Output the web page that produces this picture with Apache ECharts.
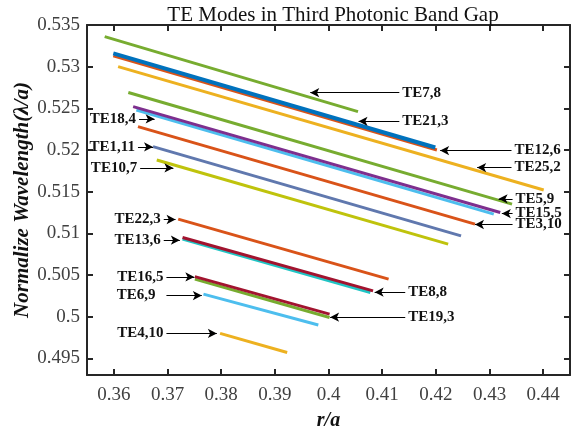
<!DOCTYPE html>
<html>
<head>
<meta charset="utf-8">
<title>TE Modes in Third Photonic Band Gap</title>
<script src="https://cdn.jsdelivr.net/npm/echarts@6/dist/echarts.min.js"></script>
<style>
	* { margin: 0; padding: 0; }
	#main { width: 579px; height: 430px; }
</style>
</head>
<body>
<div id="main"></div>
<script>
	// tick labels
	let xTicks = [0.36, 0.37, 0.38, 0.39, 0.40, 0.41, 0.42, 0.43, 0.44];
	let yTicks = [0.495, 0.5, 0.505, 0.51, 0.515, 0.52, 0.525, 0.53, 0.535];

	// mode lines, [start, end] (draw order = list order)
	let modeNames = ['TE7,8', 'TE12,6', 'TE21,3', 'TE25,2', 'TE5,9', 'TE18,4', 'TE15,5', 'TE3,10',
		'TE1,11', 'TE10,7', 'TE22,3', 'TE13,6', 'TE8,8', 'TE19,3', 'TE16,5', 'TE6,9', 'TE4,10'];
	let modeData = [
		[[0.3583, 0.5336], [0.4055, 0.5246]],
		[[0.3599, 0.5313], [0.4202, 0.5200]],
		[[0.3599, 0.5316], [0.4199, 0.5203]],
		[[0.3608, 0.5300], [0.4401, 0.5152]],
		[[0.3627, 0.5269], [0.4342, 0.5135]],
		[[0.3642, 0.5248], [0.4308, 0.5123]],
		[[0.3636, 0.5252], [0.4320, 0.5125]],
		[[0.3645, 0.5228], [0.4273, 0.5111]],
		[[0.3673, 0.5204], [0.4247, 0.5097]],
		[[0.3680, 0.5188], [0.4223, 0.5087]],
		[[0.3720, 0.5117], [0.4112, 0.5045]],
		[[0.3728, 0.5093], [0.4078, 0.5029]],
		[[0.3728, 0.5095], [0.4083, 0.5031]],
		[[0.3751, 0.5045], [0.4002, 0.4999]],
		[[0.3751, 0.5048], [0.4002, 0.5003]],
		[[0.3767, 0.5027], [0.3981, 0.4990]],
		[[0.3798, 0.4980], [0.3923, 0.4957]]
	];
	let modeColor = ['#77AC30', '#D95319', '#0072BD', '#EDB120', '#77AC30', '#4DBEEE', '#7E2F8E', '#D95319',
		'#6078AE', '#BFC30C', '#D95319', '#20C5C5', '#A2142F', '#77AC30', '#A2142F', '#4DBEEE', '#EDB120'];
	let modeWidth = [3, 3, 4, 3, 3, 3, 3, 3, 3, 3, 3, 3, 3, 3, 3, 3, 3];

	// annotations: text, arrow tail x, arrow tip x, y
	let annoText = ['TE7,8', 'TE21,3', 'TE12,6', 'TE25,2', 'TE5,9', 'TE15,5', 'TE3,10', 'TE8,8', 'TE19,3',
		'TE18,4', 'TE1,11', 'TE10,7', 'TE22,3', 'TE13,6', 'TE16,5', 'TE6,9', 'TE4,10'];
	let annoTail = [0.4132, 0.4132, 0.4341, 0.4341, 0.4343, 0.4343, 0.4343, 0.4143, 0.4143,
		0.3647, 0.3645, 0.3649, 0.3693, 0.3693, 0.3698, 0.3698, 0.3698];
	let annoTip = [0.3966, 0.4056, 0.4208, 0.4277, 0.4317, 0.4323, 0.4273, 0.4086, 0.4003,
		0.3676, 0.3673, 0.3711, 0.3715, 0.3723, 0.3750, 0.3764, 0.3792];
	let annoY = [0.52688, 0.52344, 0.51993, 0.51789, 0.51414, 0.51237, 0.51106, 0.50294, 0.49994,
		0.52373, 0.52037, 0.51785, 0.51166, 0.50918, 0.50477, 0.50253, 0.49799];

	let myChart = echarts.init(document.getElementById('main'));
	let serif = 'Liberation Serif';

	let series = [];
	modeNames.forEach((item, index) => {
		series.push({
			name: item,
			type: 'line',
			symbol: 'none',
			silent: true,
			xAxisIndex: 0,
			yAxisIndex: 0,
			lineStyle: { color: modeColor[index], width: modeWidth[index] },
			data: modeData[index]
		});
	});

	let arrows = [];
	annoText.forEach((item, index) => {
		arrows.push([
			{
				coord: [annoTail[index], annoY[index]],
				label: { distance: item == 'TE6,9' ? 11 : 3 }
			},
			{ coord: [annoTip[index], annoY[index]] }
		]);
	});
	series.push({
		name: 'arrows',
		type: 'line',
		data: [],
		silent: true,
		markLine: {
			silent: true,
			animation: false,
			symbol: ['none', 'arrow'],
			symbolSize: [7, 9],
			lineStyle: { color: '#000', width: 1, type: 'solid' },
			label: {
				show: true,
				position: 'start',
				formatter: function (p) { return annoText[p.dataIndex]; },
				fontFamily: serif,
				fontWeight: 'bold',
				fontSize: 15,
				color: '#111'
			},
			data: arrows
		}
	});

	let axisLineStyle = { show: true, lineStyle: { color: '#262626', width: 2 } };
	let option = {
		animation: false,
		title: {
			text: 'TE Modes in Third Photonic Band Gap',
			left: 328,
			textAlign: 'center',
			top: 0,
			textStyle: { fontFamily: serif, fontWeight: 'normal', fontSize: 21, color: '#111' }
		},
		grid: { left: 87, right: 9, top: 25, bottom: 55, outerBoundsMode: 'none' },
		xAxis: [{
			type: 'value',
			min: 0.355,
			max: 0.445,
			name: 'r/a',
			nameLocation: 'middle',
			nameGap: 36,
			nameTextStyle: { fontFamily: serif, fontWeight: 'bold', fontStyle: 'italic', fontSize: 20, color: '#111' },
			axisLine: axisLineStyle,
			axisTick: { show: true, inside: true, length: 6, customValues: xTicks, lineStyle: { color: '#262626', width: 2 } },
			axisLabel: { customValues: xTicks, fontFamily: serif, fontSize: 19, color: '#404040', margin: 11 },
			splitLine: { show: false }
		}, {
			type: 'value',
			position: 'top',
			min: 0.355,
			max: 0.445,
			axisLine: axisLineStyle,
			axisTick: { show: true, inside: true, length: 6, customValues: xTicks, lineStyle: { color: '#262626', width: 2 } },
			axisLabel: { show: false },
			splitLine: { show: false }
		}],
		yAxis: [{
			type: 'value',
			min: 0.493,
			max: 0.535,
			name: 'Normalize Wavelength(λ/a)',
			nameLocation: 'middle',
			nameGap: 54,
			nameMoveOverlap: false,
			nameTextStyle: { fontFamily: serif, fontWeight: 'bold', fontStyle: 'italic', fontSize: 21, color: '#111' },
			axisLine: axisLineStyle,
			axisTick: { show: true, inside: true, length: 6, customValues: yTicks, lineStyle: { color: '#262626', width: 2 } },
			axisLabel: { customValues: yTicks, fontFamily: serif, fontSize: 19, color: '#404040', margin: 7 },
			splitLine: { show: false }
		}, {
			type: 'value',
			position: 'right',
			min: 0.493,
			max: 0.535,
			axisLine: axisLineStyle,
			axisTick: { show: true, inside: true, length: 6, customValues: yTicks, lineStyle: { color: '#262626', width: 2 } },
			axisLabel: { show: false },
			splitLine: { show: false }
		}],
		series: series
	};
	myChart.setOption(option);
</script>
</body>
</html>
